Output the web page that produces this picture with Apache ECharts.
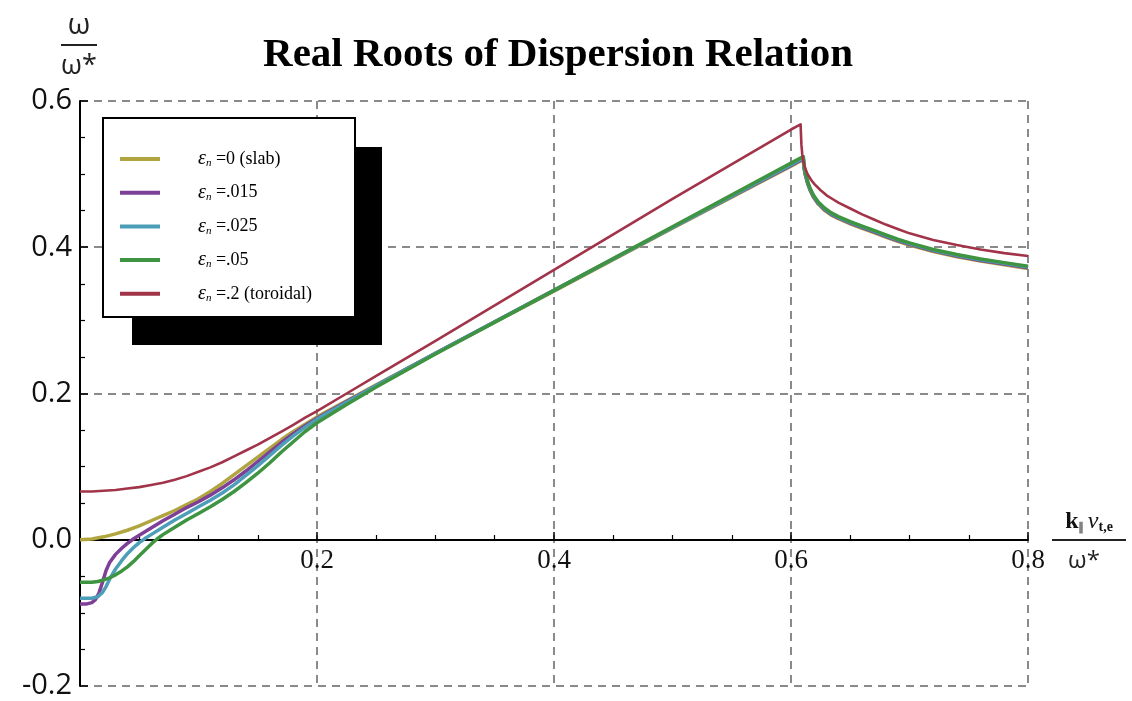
<!DOCTYPE html>
<html>
<head>
<meta charset="utf-8">
<script src="https://cdn.jsdelivr.net/npm/echarts@6/dist/echarts.min.js"></script>
<style>html,body{margin:0;padding:0;background:#fff;}#c{width:1132px;height:701px;}</style>
</head>
<body>
<div id="c"></div>
<script>
// ---- data (x = k|| v_te / ω*, y = ω / ω*) ----
const seriesNames = ['slab', 'e015', 'e025', 'e05', 'toroidal'];
const legendLabels = ['=0 (slab)', '=.015', '=.025', '=.05', '=.2 (toroidal)'];
const xTicks = [0, 0.2, 0.4, 0.6, 0.8];
const yTicks = [-0.2, 0, 0.2, 0.4, 0.6];

const slab = [[0,0],[0.01,0.001],[0.02,0.004],[0.03,0.008],[0.04,0.013],[0.05,0.019],[0.06,0.026],[0.07,0.033],[0.08,0.04],[0.09,0.048],[0.1,0.056],[0.11,0.066],[0.12,0.077],[0.13,0.089],[0.14,0.101],[0.15,0.113],[0.16,0.125],[0.17,0.137],[0.18,0.148],[0.19,0.158],[0.2,0.168],[0.225,0.19],[0.25,0.212],[0.3,0.255],[0.4,0.34],[0.5,0.426],[0.6,0.511],[0.6104,0.52],[0.611,0.508],[0.612,0.499],[0.614,0.487],[0.616,0.478],[0.619,0.468],[0.623,0.459],[0.628,0.451],[0.634,0.444],[0.64,0.439],[0.65,0.432],[0.66,0.426],[0.67,0.42],[0.68,0.414],[0.69,0.408],[0.7,0.403],[0.72,0.394],[0.74,0.387],[0.76,0.381],[0.78,0.376],[0.8,0.371]];
const eps015 = [[0,-0.088],[0.005,-0.088],[0.01,-0.086],[0.013,-0.082],[0.016,-0.073],[0.019,-0.058],[0.022,-0.042],[0.025,-0.031],[0.03,-0.02],[0.035,-0.012],[0.04,-0.005],[0.045,0.001],[0.05,0.006],[0.06,0.016],[0.07,0.026],[0.08,0.035],[0.09,0.044],[0.1,0.052],[0.11,0.061],[0.12,0.071],[0.13,0.082],[0.14,0.094],[0.15,0.107],[0.16,0.12],[0.17,0.133],[0.18,0.145],[0.19,0.156],[0.2,0.166],[0.225,0.189],[0.25,0.211],[0.3,0.255],[0.4,0.341],[0.5,0.427],[0.6,0.512],[0.6104,0.521],[0.611,0.509],[0.612,0.5],[0.614,0.488],[0.616,0.479],[0.619,0.469],[0.623,0.46],[0.628,0.452],[0.634,0.445],[0.64,0.44],[0.65,0.433],[0.66,0.427],[0.67,0.421],[0.68,0.415],[0.69,0.409],[0.7,0.404],[0.72,0.395],[0.74,0.388],[0.76,0.382],[0.78,0.377],[0.8,0.372]];
const eps025 = [[0,-0.08],[0.01,-0.08],[0.015,-0.078],[0.019,-0.072],[0.022,-0.064],[0.025,-0.054],[0.03,-0.04],[0.035,-0.029],[0.04,-0.019],[0.045,-0.011],[0.05,-0.004],[0.055,0.002],[0.06,0.007],[0.07,0.017],[0.08,0.027],[0.09,0.036],[0.1,0.045],[0.11,0.054],[0.12,0.064],[0.13,0.075],[0.14,0.088],[0.15,0.101],[0.16,0.115],[0.17,0.129],[0.18,0.142],[0.19,0.154],[0.2,0.165],[0.225,0.188],[0.25,0.211],[0.3,0.255],[0.4,0.341],[0.5,0.427],[0.6,0.513],[0.6104,0.522],[0.611,0.51],[0.612,0.501],[0.614,0.489],[0.616,0.48],[0.619,0.47],[0.623,0.461],[0.628,0.453],[0.634,0.446],[0.64,0.441],[0.65,0.434],[0.66,0.428],[0.67,0.422],[0.68,0.416],[0.69,0.41],[0.7,0.405],[0.72,0.396],[0.74,0.389],[0.76,0.383],[0.78,0.378],[0.8,0.373]];
const eps05 = [[0,-0.058],[0.01,-0.058],[0.015,-0.057],[0.02,-0.055],[0.025,-0.052],[0.03,-0.048],[0.035,-0.043],[0.04,-0.037],[0.045,-0.03],[0.05,-0.022],[0.055,-0.014],[0.06,-0.006],[0.065,0.001],[0.07,0.007],[0.08,0.017],[0.09,0.027],[0.1,0.036],[0.11,0.045],[0.12,0.055],[0.13,0.066],[0.14,0.078],[0.15,0.091],[0.16,0.105],[0.17,0.12],[0.18,0.134],[0.19,0.148],[0.2,0.16],[0.225,0.185],[0.25,0.209],[0.3,0.254],[0.4,0.341],[0.5,0.428],[0.6,0.515],[0.6104,0.524],[0.611,0.512],[0.612,0.503],[0.614,0.49],[0.616,0.481],[0.619,0.471],[0.623,0.462],[0.628,0.454],[0.634,0.447],[0.64,0.442],[0.65,0.435],[0.66,0.429],[0.67,0.423],[0.68,0.417],[0.69,0.411],[0.7,0.406],[0.72,0.397],[0.74,0.39],[0.76,0.384],[0.78,0.379],[0.8,0.374]];
const eps2 = [[0,0.066],[0.01,0.066],[0.02,0.067],[0.03,0.068],[0.04,0.07],[0.05,0.072],[0.06,0.075],[0.07,0.078],[0.08,0.082],[0.09,0.087],[0.1,0.093],[0.11,0.099],[0.12,0.106],[0.13,0.114],[0.14,0.122],[0.15,0.13],[0.16,0.139],[0.17,0.148],[0.18,0.157],[0.19,0.167],[0.2,0.176],[0.225,0.2],[0.25,0.224],[0.3,0.272],[0.4,0.369],[0.5,0.466],[0.6,0.561],[0.6081,0.568],[0.6084,0.555],[0.6088,0.54],[0.6095,0.527],[0.6105,0.517],[0.612,0.508],[0.614,0.5],[0.617,0.492],[0.62,0.486],[0.625,0.478],[0.63,0.471],[0.635,0.466],[0.64,0.461],[0.65,0.453],[0.66,0.445],[0.67,0.438],[0.68,0.431],[0.69,0.425],[0.7,0.419],[0.72,0.41],[0.74,0.403],[0.76,0.397],[0.78,0.392],[0.8,0.388]];

const seriesData = [slab, eps015, eps025, eps05, eps2];
const colors = ['#b0a53e', '#7e3f96', '#4d9eb8', '#3f9442', '#a2344a'];
const widths = [3.5, 3.5, 3.5, 3.5, 2.6];

const chart = echarts.init(document.getElementById('c'));
const rich = {
  g: {width: 33, fontSize: 18, lineHeight: 20},
  e: {fontFamily: 'Liberation Serif', fontStyle: 'italic', fontSize: 20, lineHeight: 20, color: '#000'},
  s: {fontFamily: 'Liberation Serif', fontStyle: 'italic', fontSize: 11, lineHeight: 20, verticalAlign: 'bottom', padding: [8, 0, 0, 0], color: '#000'},
  t: {fontFamily: 'Liberation Serif', fontSize: 18, lineHeight: 20, color: '#000'}
};

chart.setOption({
  animation: false,
  backgroundColor: '#fff',
  grid: {left: 80, right: 104, top: 101, bottom: 15, containLabel: false},
  xAxis: {
    type: 'value', min: 0, max: 0.8, interval: 0.2, position: 'bottom', offset: -146,
    axisLine: {onZero: false, lineStyle: {color: '#000', width: 2}},
    axisTick: {inside: true, length: 8, lineStyle: {color: '#000', width: 1.5}},
    minorTick: {show: true, splitNumber: 4, length: 5, lineStyle: {color: '#000', width: 1.2}},
    splitLine: {show: true, lineStyle: {type: [8, 6], color: '#8a8a8a', width: 2}},
    axisLabel: {
      formatter: v => (Math.abs(v) < 1e-9 ? '' : xTicks.find(t => Math.abs(t - v) < 1e-9).toFixed(1)),
      fontFamily: 'Liberation Serif', fontSize: 27, color: '#111', margin: 7
    }
  },
  yAxis: {
    type: 'value', min: -0.2, max: 0.6, interval: 0.2,
    axisLine: {onZero: true, lineStyle: {color: '#000', width: 2}},
    axisTick: {inside: true, length: 8, lineStyle: {color: '#000', width: 1.5}},
    minorTick: {show: true, splitNumber: 4, length: 5, lineStyle: {color: '#000', width: 1.2}},
    splitLine: {show: true, lineStyle: {type: [8, 6], color: '#8a8a8a', width: 2}},
    axisLabel: {
      formatter: v => yTicks.find(t => Math.abs(t - v) < 1e-9).toFixed(1),
      fontFamily: 'Open Sans', fontSize: 29, color: '#111', margin: 8
    }
  },
  legend: {
    orient: 'vertical', left: 115, top: 144, z: 20,
    icon: 'rect', itemWidth: 40, itemHeight: 4, itemGap: 13.7,
    data: seriesNames,
    selectedMode: false,
    formatter: n => '{g|}{e|ε}{s|n} {t|' + legendLabels[seriesNames.indexOf(n)] + '}',
    textStyle: {rich: rich, fontFamily: 'Liberation Serif', fontSize: 18, color: '#000'}
  },
  graphic: [
    {type: 'rect', z: 15, shape: {x: 132, y: 147, width: 250, height: 198}, style: {fill: '#000'}},
    {type: 'rect', z: 16, shape: {x: 103, y: 118, width: 252, height: 199}, style: {fill: '#fff', stroke: '#000', lineWidth: 2}},
    {type: 'text', z: 20, x: 558, y: 55, style: {text: 'Real Roots of Dispersion Relation', fontFamily: 'Liberation Serif', fontWeight: 'bold', fontSize: 41, fill: '#000', align: 'center', verticalAlign: 'middle'}},
    {type: 'text', z: 20, x: 79, y: 26, style: {text: 'ω', fontFamily: 'Open Sans', fontSize: 29, fill: '#222', align: 'center', verticalAlign: 'middle'}},
    {type: 'line', z: 20, shape: {x1: 61, y1: 45, x2: 97, y2: 45}, style: {stroke: '#222', lineWidth: 2}},
    {type: 'text', z: 20, x: 79, y: 66, style: {text: 'ω*', fontFamily: 'Open Sans', fontSize: 27, fill: '#222', align: 'center', verticalAlign: 'middle'}},
    {type: 'text', z: 20, x: 1089, y: 522, style: {
      text: '{k|k}{p|∥} {v|v}{q|t,e}', align: 'center', verticalAlign: 'middle',
      rich: {
        k: {fontFamily: 'Liberation Serif', fontWeight: 'bold', fontSize: 24, fill: '#111'},
        p: {fontFamily: 'Liberation Serif', fontSize: 12, fill: '#111', verticalAlign: 'bottom', padding: [10, 0, 0, 0]},
        v: {fontFamily: 'Liberation Serif', fontStyle: 'italic', fontSize: 24, fill: '#111'},
        q: {fontFamily: 'Liberation Serif', fontWeight: 'bold', fontSize: 14, fill: '#111', verticalAlign: 'bottom', padding: [10, 0, 0, 0]}
      }}},
    {type: 'line', z: 20, shape: {x1: 1052, y1: 540, x2: 1126, y2: 540}, style: {stroke: '#222', lineWidth: 2}},
    {type: 'text', z: 20, x: 1084, y: 561, style: {text: 'ω*', fontFamily: 'Open Sans', fontSize: 24, fill: '#222', align: 'center', verticalAlign: 'middle'}}
  ],
  series: seriesNames.map((n, i) => ({
    name: n, type: 'line', data: seriesData[i], showSymbol: false, symbol: 'none',
    smooth: false, z: 3 + i,
    lineStyle: {color: colors[i], width: widths[i], join: 'round'}, itemStyle: {color: colors[i]}
  }))
});
</script>
</body>
</html>
